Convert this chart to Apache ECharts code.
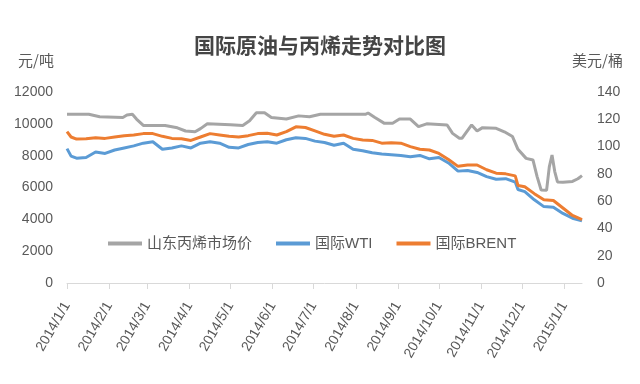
<!DOCTYPE html>
<html>
<head>
<meta charset="utf-8">
<script src="https://cdn.jsdelivr.net/npm/echarts@6/dist/echarts.min.js"></script>
<style>
html,body{margin:0;padding:0;background:#fff;}
#main{width:640px;height:384px;}
</style>
</head>
<body>
<div id="main"></div>
<script>
var titleText = '国际原油与丙烯走势对比图';
var leftUnit = '元/吨';
var rightUnit = '美元/桶';
var seriesNames = ['山东丙烯市场价', '国际WTI', '国际BRENT'];
var tickMonths = ['2014-01-01','2014-02-01','2014-03-01','2014-04-01','2014-05-01','2014-06-01','2014-07-01','2014-08-01','2014-09-01','2014-10-01','2014-11-01','2014-12-01','2015-01-01'];
var xStart = '2014-01-01';
var xEnd = '2015-01-14';
var leftTicks = [0, 2000, 4000, 6000, 8000, 10000, 12000];
var rightTicks = [0, 20, 40, 60, 80, 100, 120, 140];

var grayDates = ['2014-01-01','2014-01-17','2014-01-25','2014-02-11','2014-02-14','2014-02-18','2014-02-21','2014-02-26','2014-03-14','2014-03-23','2014-03-29','2014-04-05','2014-04-09','2014-04-14','2014-05-01','2014-05-10','2014-05-15','2014-05-20','2014-05-26','2014-05-31','2014-06-11','2014-06-20','2014-06-28','2014-07-06','2014-08-08','2014-08-10','2014-08-15','2014-08-22','2014-08-28','2014-09-02','2014-09-10','2014-09-16','2014-09-22','2014-10-07','2014-10-11','2014-10-16','2014-10-18','2014-10-25','2014-10-29','2014-11-02','2014-11-12','2014-11-18','2014-11-24','2014-11-28','2014-12-04','2014-12-09','2014-12-12','2014-12-15','2014-12-19','2014-12-21','2014-12-23','2014-12-25','2014-12-27','2014-12-31','2015-01-07','2015-01-11','2015-01-14'];
var propylene = [10600,10600,10450,10400,10550,10600,10300,9900,9900,9750,9550,9500,9700,10000,9950,9900,10200,10700,10700,10400,10300,10500,10450,10600,10600,10680,10400,10030,10030,10300,10300,9820,10000,9930,9400,9090,9100,9930,9550,9760,9720,9500,9200,8400,7830,7730,6700,5840,5820,7300,8040,7000,6350,6330,6380,6550,6750];

var oilDates = ['2014-01-01','2014-01-04','2014-01-08','2014-01-15','2014-01-22','2014-01-29','2014-02-05','2014-02-12','2014-02-19','2014-02-26','2014-03-05','2014-03-12','2014-03-19','2014-03-26','2014-04-02','2014-04-09','2014-04-16','2014-04-23','2014-04-30','2014-05-07','2014-05-14','2014-05-21','2014-05-28','2014-06-04','2014-06-11','2014-06-18','2014-06-25','2014-07-02','2014-07-09','2014-07-16','2014-07-23','2014-07-30','2014-08-06','2014-08-13','2014-08-20','2014-08-27','2014-09-03','2014-09-10','2014-09-17','2014-09-24','2014-10-01','2014-10-08','2014-10-15','2014-10-22','2014-10-29','2014-11-05','2014-11-12','2014-11-19','2014-11-26','2014-11-28','2014-12-03','2014-12-10','2014-12-17','2014-12-24','2014-12-31','2015-01-07','2015-01-14'];
var wti = [98.5,93,91.5,92,96,95,97.5,99,100.5,102.5,103.5,98,99,100.5,99,102.5,103.5,102.5,99.5,99,101.5,103,103.5,102.5,105,106.5,106,104,103,101,102.5,98,97,95.5,94.5,94,93.5,92.5,93.5,91,92,88,82,82.5,81,78,76,76.5,74,68.5,67,61,56,55.5,51,47.5,45.5];
var brent = [111,107,105.5,105.8,106.5,106,107,108,108.5,109.5,109.5,107.5,106,105.8,104.5,107,109.5,108.5,107.5,107,108,109.5,109.8,108.5,111,114.5,114,111.5,109,107.5,108.5,106,104.8,104.5,102.5,102.8,102.5,100,98,97.5,95,90.5,85.5,86.5,86.5,83,80.5,80,78.5,71.5,70.5,65.5,61,60.5,55,49.5,46.5];

function ts(s){ var p = s.split('-'); return Date.UTC(+p[0], +p[1]-1, +p[2]); }
function pairs(dates, vals){ return dates.map(function(d,i){ return [ts(d), vals[i]]; }); }
var tickVals = tickMonths.map(ts);
var FONT = '"Liberation Sans","Noto Sans CJK SC",sans-serif';
var TXT = '#595959';
function plain(v){ return String(v); }

var chart = echarts.init(document.getElementById('main'));
chart.setOption({
  animation: false,
  backgroundColor: '#ffffff',
  title: {
    text: titleText, left: 'center', top: 30,
    textStyle: {fontFamily: '"Noto Sans CJK SC",sans-serif', fontSize: 21, fontWeight: 'bold', color: '#454545'}
  },
  graphic: [
    {type: 'text', left: 18, top: 53, style: {text: leftUnit, font: '15px "Noto Sans CJK SC","Liberation Sans",sans-serif', fill: TXT}},
    {type: 'text', left: 572, top: 53, style: {text: rightUnit, font: '15px "Noto Sans CJK SC","Liberation Sans",sans-serif', fill: TXT}}
  ],
  legend: {
    data: seriesNames, left: 103, top: 231, itemGap: 24, itemWidth: 34, itemHeight: 4, icon: 'rect',
    textStyle: {fontFamily: FONT, fontSize: 15, color: TXT}
  },
  grid: {left: 67, right: 58, top: 92, bottom: 101, containLabel: false},
  xAxis: {
    type: 'value', min: ts(xStart), max: ts(xEnd),
    axisLine: {show: true, lineStyle: {color: '#d9d9d9', width: 1}},
    axisTick: {show: true, customValues: tickVals, length: 6, lineStyle: {color: '#d9d9d9'}},
    splitLine: {show: false},
    axisLabel: {
      customValues: tickVals, rotate: 60, margin: 20, fontFamily: FONT, fontSize: 14, color: TXT,
      formatter: function(v){ var d = new Date(v); return d.getUTCFullYear() + '/' + (d.getUTCMonth()+1) + '/' + d.getUTCDate(); }
    }
  },
  yAxis: [
    {type: 'value', min: leftTicks[0], max: leftTicks[leftTicks.length-1], interval: leftTicks[1]-leftTicks[0],
     axisLine: {show: false}, axisTick: {show: false}, splitLine: {show: false},
     axisLabel: {margin: 14, fontFamily: FONT, fontSize: 14, color: TXT, formatter: plain}},
    {type: 'value', min: rightTicks[0], max: rightTicks[rightTicks.length-1], interval: rightTicks[1]-rightTicks[0],
     axisLine: {show: false}, axisTick: {show: false}, splitLine: {show: false},
     axisLabel: {margin: 15, fontFamily: FONT, fontSize: 14, color: TXT, formatter: plain}}
  ],
  series: [
    {name: seriesNames[0], type: 'line', yAxisIndex: 0, showSymbol: false, data: pairs(grayDates, propylene),
     itemStyle: {color: '#A5A5A5'}, lineStyle: {color: '#A5A5A5', width: 3}},
    {name: seriesNames[1], type: 'line', yAxisIndex: 1, showSymbol: false, data: pairs(oilDates, wti),
     itemStyle: {color: '#5B9BD5'}, lineStyle: {color: '#5B9BD5', width: 3}},
    {name: seriesNames[2], type: 'line', yAxisIndex: 1, showSymbol: false, data: pairs(oilDates, brent),
     itemStyle: {color: '#ED7D31'}, lineStyle: {color: '#ED7D31', width: 3}}
  ]
});
</script>
</body>
</html>
